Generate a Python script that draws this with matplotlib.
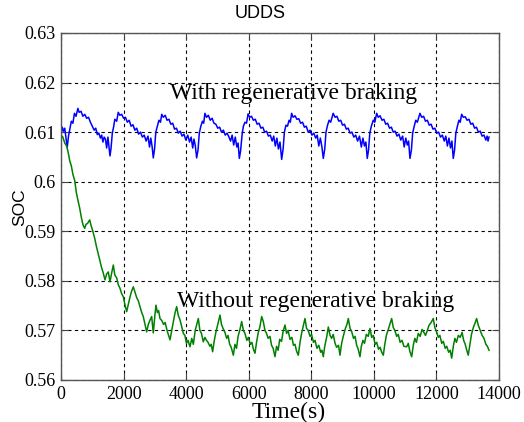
import numpy as np
import matplotlib
matplotlib.use("Agg")
import matplotlib.pyplot as plt

# SOC over repeated UDDS cycles, (time s, SOC)
regen_pts = [
    (0, 0.6095), (40, 0.6110), (80, 0.6102), (120, 0.6108), (160, 0.6088),
    (200, 0.6070), (240, 0.6092), (280, 0.6105), (330, 0.6122), (380, 0.6118),
    (430, 0.6138), (480, 0.6132), (540, 0.6148), (580, 0.6140), (640, 0.6142),
    (700, 0.6132), (760, 0.6136), (820, 0.6128), (880, 0.6130), (940, 0.6120),
    (1000, 0.6112), (1060, 0.6104), (1110, 0.6108), (1160, 0.6095), (1210, 0.6098),
    (1260, 0.6088), (1300, 0.6094), (1340, 0.6080), (1380, 0.6090), (1420, 0.6086),
    (1460, 0.6068), (1500, 0.6090), (1530, 0.6072), (1566, 0.6052), (1600, 0.6068),
    (1640, 0.6098), (1680, 0.6110), (1720, 0.6126), (1780, 0.6122), (1830, 0.6140),
    (1880, 0.6134), (1940, 0.6136), (2000, 0.6128), (2060, 0.6130), (2120, 0.6120),
    (2180, 0.6124), (2240, 0.6112), (2300, 0.6115), (2360, 0.6104), (2420, 0.6108),
    (2480, 0.6096), (2540, 0.6100), (2600, 0.6090), (2660, 0.6094), (2720, 0.6082),
    (2780, 0.6092), (2830, 0.6070), (2870, 0.6088), (2910, 0.6072), (2950, 0.6048),
    (2990, 0.6066), (3030, 0.6100), (3080, 0.6112), (3130, 0.6124), (3180, 0.6120),
    (3220, 0.6136), (3270, 0.6130), (3330, 0.6134), (3390, 0.6124), (3450, 0.6126),
    (3510, 0.6116), (3570, 0.6118), (3630, 0.6106), (3690, 0.6108), (3750, 0.6098),
    (3810, 0.6102), (3870, 0.6092), (3930, 0.6096), (3990, 0.6084), (4050, 0.6094),
    (4110, 0.6080), (4160, 0.6090), (4210, 0.6068), (4250, 0.6086), (4290, 0.6074),
    (4336, 0.6048), (4380, 0.6064), (4420, 0.6098), (4470, 0.6112), (4520, 0.6122),
    (4560, 0.6118), (4600, 0.6138), (4650, 0.6130), (4710, 0.6134), (4770, 0.6124),
    (4830, 0.6128), (4890, 0.6118), (4950, 0.6116), (5010, 0.6108), (5070, 0.6110),
    (5130, 0.6100), (5190, 0.6104), (5250, 0.6094), (5310, 0.6098), (5370, 0.6090),
    (5420, 0.6082), (5470, 0.6094), (5520, 0.6074), (5570, 0.6090), (5620, 0.6070),
    (5660, 0.6078), (5700, 0.6047), (5740, 0.6062), (5790, 0.6096), (5830, 0.6112),
    (5880, 0.6120), (5930, 0.6118), (5980, 0.6137), (6030, 0.6130), (6090, 0.6132),
    (6150, 0.6124), (6210, 0.6126), (6270, 0.6116), (6330, 0.6118), (6390, 0.6108),
    (6450, 0.6110), (6510, 0.6100), (6570, 0.6102), (6630, 0.6092), (6690, 0.6094),
    (6750, 0.6082), (6800, 0.6092), (6850, 0.6072), (6900, 0.6088), (6950, 0.6066),
    (7000, 0.6080), (7053, 0.6045), (7100, 0.6066), (7140, 0.6100), (7190, 0.6114),
    (7240, 0.6112), (7290, 0.6124), (7330, 0.6120), (7372, 0.6138), (7420, 0.6130),
    (7480, 0.6133), (7540, 0.6126), (7600, 0.6127), (7660, 0.6118), (7720, 0.6120),
    (7780, 0.6110), (7840, 0.6112), (7900, 0.6100), (7960, 0.6104), (8020, 0.6094),
    (8080, 0.6098), (8140, 0.6088), (8190, 0.6094), (8240, 0.6072), (8290, 0.6088),
    (8340, 0.6070), (8384, 0.6047), (8430, 0.6066), (8470, 0.6100), (8520, 0.6114),
    (8570, 0.6124), (8620, 0.6120), (8700, 0.6138), (8760, 0.6130), (8820, 0.6132),
    (8880, 0.6122), (8940, 0.6124), (9000, 0.6114), (9060, 0.6116), (9120, 0.6106),
    (9180, 0.6108), (9240, 0.6098), (9300, 0.6100), (9360, 0.6090), (9420, 0.6094),
    (9480, 0.6082), (9540, 0.6092), (9600, 0.6070), (9650, 0.6088), (9700, 0.6072),
    (9745, 0.6080), (9789, 0.6047), (9830, 0.6064), (9870, 0.6098), (9920, 0.6112),
    (9980, 0.6124), (10030, 0.6120), (10090, 0.6138), (10140, 0.6130), (10200, 0.6133),
    (10260, 0.6124), (10320, 0.6126), (10380, 0.6116), (10440, 0.6118), (10500, 0.6108),
    (10560, 0.6110), (10620, 0.6100), (10680, 0.6102), (10740, 0.6092), (10800, 0.6096),
    (10860, 0.6084), (10920, 0.6092), (10970, 0.6070), (11020, 0.6088), (11070, 0.6074),
    (11110, 0.6082), (11154, 0.6047), (11200, 0.6064), (11240, 0.6098), (11290, 0.6112),
    (11340, 0.6124), (11390, 0.6120), (11473, 0.6138), (11530, 0.6130), (11590, 0.6132),
    (11650, 0.6122), (11710, 0.6124), (11770, 0.6114), (11830, 0.6116), (11890, 0.6106),
    (11950, 0.6108), (12010, 0.6098), (12070, 0.6100), (12130, 0.6090), (12190, 0.6094),
    (12250, 0.6082), (12300, 0.6092), (12350, 0.6072), (12400, 0.6088), (12450, 0.6068),
    (12495, 0.6082), (12538, 0.6047), (12580, 0.6064), (12620, 0.6098), (12670, 0.6112),
    (12720, 0.6124), (12760, 0.6120), (12806, 0.6136), (12860, 0.6130), (12920, 0.6131),
    (12980, 0.6124), (13040, 0.6126), (13100, 0.6116), (13160, 0.6118), (13220, 0.6108),
    (13280, 0.6110), (13340, 0.6100), (13400, 0.6102), (13460, 0.6092), (13520, 0.6094),
    (13580, 0.6084), (13620, 0.6092), (13650, 0.6082), (13680, 0.6090),
]

noregen_pts = [
    (0, 0.6094), (60, 0.6090), (120, 0.6078), (180, 0.6072), (224, 0.6061),
    (280, 0.6042), (330, 0.6032), (384, 0.6014), (440, 0.6002), (490, 0.5978),
    (543, 0.5962), (600, 0.5946), (650, 0.5928), (703, 0.5913), (757, 0.5906),
    (800, 0.5914), (850, 0.5916), (917, 0.5923), (960, 0.5912), (1023, 0.5899),
    (1080, 0.5885), (1130, 0.5870), (1183, 0.5856), (1246, 0.5839), (1300, 0.5826),
    (1350, 0.5816), (1406, 0.5802), (1460, 0.5814), (1512, 0.5818), (1566, 0.5798),
    (1620, 0.5816), (1672, 0.5832), (1720, 0.5812), (1780, 0.5806), (1832, 0.5792),
    (1880, 0.5786), (1940, 0.5774), (1992, 0.5768), (2050, 0.5750), (2099, 0.5738),
    (2150, 0.5752), (2200, 0.5766), (2250, 0.5778), (2311, 0.5788), (2370, 0.5776),
    (2420, 0.5766), (2470, 0.5760), (2525, 0.5748), (2580, 0.5736), (2630, 0.5728),
    (2680, 0.5714), (2738, 0.5697), (2790, 0.5712), (2840, 0.5720), (2898, 0.5728),
    (2950, 0.5695), (3000, 0.5730), (3036, 0.5751), (3080, 0.5736), (3120, 0.5740),
    (3164, 0.5724), (3220, 0.5720), (3280, 0.5712), (3330, 0.5716), (3390, 0.5700),
    (3440, 0.5690), (3484, 0.5681), (3540, 0.5700), (3590, 0.5718), (3640, 0.5734),
    (3697, 0.5748), (3750, 0.5730), (3800, 0.5722), (3857, 0.5708), (3910, 0.5694),
    (3960, 0.5690), (4010, 0.5674), (4060, 0.5680), (4123, 0.5667), (4180, 0.5684),
    (4230, 0.5672), (4290, 0.5700), (4340, 0.5712), (4389, 0.5724), (4440, 0.5700),
    (4490, 0.5694), (4548, 0.5677), (4600, 0.5686), (4650, 0.5680), (4700, 0.5676),
    (4760, 0.5668), (4800, 0.5672), (4847, 0.5657), (4900, 0.5680), (4950, 0.5696),
    (5010, 0.5712), (5082, 0.5731), (5130, 0.5712), (5180, 0.5704), (5240, 0.5696),
    (5295, 0.5684), (5340, 0.5690), (5390, 0.5672), (5440, 0.5666), (5508, 0.5650),
    (5560, 0.5672), (5610, 0.5664), (5660, 0.5688), (5720, 0.5702), (5775, 0.5718),
    (5830, 0.5700), (5880, 0.5694), (5940, 0.5680), (5990, 0.5686), (6050, 0.5672),
    (6100, 0.5676), (6150, 0.5662), (6200, 0.5654), (6250, 0.5676), (6300, 0.5694),
    (6360, 0.5708), (6414, 0.5728), (6466, 0.5718), (6520, 0.5700), (6570, 0.5694),
    (6620, 0.5684), (6680, 0.5688), (6730, 0.5670), (6780, 0.5664), (6840, 0.5647),
    (6890, 0.5668), (6940, 0.5660), (6990, 0.5682), (7050, 0.5678), (7100, 0.5698),
    (7159, 0.5711), (7210, 0.5694), (7260, 0.5700), (7320, 0.5682), (7380, 0.5686),
    (7430, 0.5670), (7480, 0.5672), (7530, 0.5658), (7585, 0.5650), (7640, 0.5676),
    (7690, 0.5694), (7740, 0.5708), (7798, 0.5724), (7850, 0.5704), (7900, 0.5700),
    (7960, 0.5688), (8010, 0.5692), (8070, 0.5676), (8120, 0.5680), (8180, 0.5664),
    (8240, 0.5670), (8300, 0.5656), (8340, 0.5660), (8384, 0.5647), (8430, 0.5668),
    (8490, 0.5686), (8544, 0.5707), (8600, 0.5690), (8650, 0.5684), (8700, 0.5692),
    (8760, 0.5674), (8810, 0.5666), (8870, 0.5670), (8917, 0.5650), (8970, 0.5674),
    (9030, 0.5690), (9090, 0.5704), (9140, 0.5712), (9183, 0.5724), (9240, 0.5704),
    (9290, 0.5698), (9350, 0.5684), (9400, 0.5688), (9450, 0.5670), (9500, 0.5662),
    (9556, 0.5647), (9600, 0.5668), (9650, 0.5680), (9700, 0.5674), (9760, 0.5692),
    (9820, 0.5688), (9876, 0.5704), (9930, 0.5686), (9980, 0.5690), (10040, 0.5672),
    (10090, 0.5676), (10150, 0.5662), (10200, 0.5666), (10250, 0.5656), (10302, 0.5650),
    (10350, 0.5672), (10400, 0.5690), (10460, 0.5702), (10510, 0.5712), (10569, 0.5724),
    (10620, 0.5706), (10670, 0.5700), (10730, 0.5688), (10780, 0.5692), (10840, 0.5676),
    (10900, 0.5680), (10960, 0.5668), (11049, 0.5667), (11100, 0.5674), (11150, 0.5658),
    (11209, 0.5647), (11260, 0.5670), (11310, 0.5684), (11360, 0.5676), (11420, 0.5694),
    (11480, 0.5688), (11540, 0.5702), (11600, 0.5696), (11650, 0.5690), (11700, 0.5698),
    (11760, 0.5710), (11830, 0.5716), (11899, 0.5724), (11950, 0.5706), (12000, 0.5698),
    (12060, 0.5686), (12110, 0.5690), (12170, 0.5674), (12220, 0.5678), (12280, 0.5664),
    (12330, 0.5668), (12390, 0.5656), (12440, 0.5660), (12487, 0.5644), (12540, 0.5668),
    (12590, 0.5684), (12640, 0.5676), (12700, 0.5690), (12760, 0.5686), (12820, 0.5696),
    (12870, 0.5680), (12920, 0.5672), (12970, 0.5660), (13017, 0.5650), (13070, 0.5672),
    (13120, 0.5692), (13180, 0.5706), (13230, 0.5714), (13285, 0.5724), (13340, 0.5710),
    (13400, 0.5700), (13460, 0.5690), (13520, 0.5684), (13580, 0.5672), (13630, 0.5668),
    (13680, 0.5660),
]

x_ticks = [0, 2000, 4000, 6000, 8000, 10000, 12000, 14000]
y_ticks = [0.56, 0.57, 0.58, 0.59, 0.60, 0.61, 0.62, 0.63]
y_ticklabels = ["0.56", "0.57", "0.58", "0.59", "0.6", "0.61", "0.62", "0.63"]

serif = "Liberation Serif"

fig = plt.figure(figsize=(5.24, 4.22), dpi=100)
ax = fig.add_axes([61 / 524, 42 / 422, 438 / 524, 347 / 422])

rt, rs = np.array(regen_pts).T
nt, ns = np.array(noregen_pts).T
ax.plot(rt, rs, color="#0000ff", lw=1.1)
ax.plot(nt, ns, color="#008000", lw=1.1)

ax.set_xlim(0, 14000)
ax.set_ylim(0.56, 0.63)
ax.set_xticks(x_ticks)
ax.set_xticklabels([str(v) for v in x_ticks], fontfamily=serif, fontsize=13)
ax.set_yticks(y_ticks)
ax.set_yticklabels(y_ticklabels, fontfamily=serif, fontsize=13)
ax.tick_params(direction="in", length=5, top=True, right=True, color="#444444", pad=4)
ax.grid(True, color="black", linestyle=(0, (3, 3)), linewidth=0.8)
for s in ax.spines.values():
    s.set_color("#555555")
    s.set_linewidth(1.0)

ax.text(3484, 0.6167, "With regenerative braking", fontfamily=serif,
        fontsize=17, ha="left", va="baseline")
ax.text(3697, 0.5748, "Without regenerative braking", fontfamily=serif,
        fontsize=17, ha="left", va="baseline")

fig.text(260 / 524, 1 - 14 / 422, "UDDS", fontfamily="Liberation Sans",
         fontsize=13, ha="center", va="center")
fig.text(20 / 524, 1 - 207 / 422, "SOC", fontfamily="Liberation Sans",
         fontsize=12.5, rotation=90, ha="center", va="center")
fig.text(289 / 524, 1 - 412 / 422, "Time(s)", fontfamily=serif,
         fontsize=17, ha="center", va="center")

fig.savefig("out.png", dpi=100)
